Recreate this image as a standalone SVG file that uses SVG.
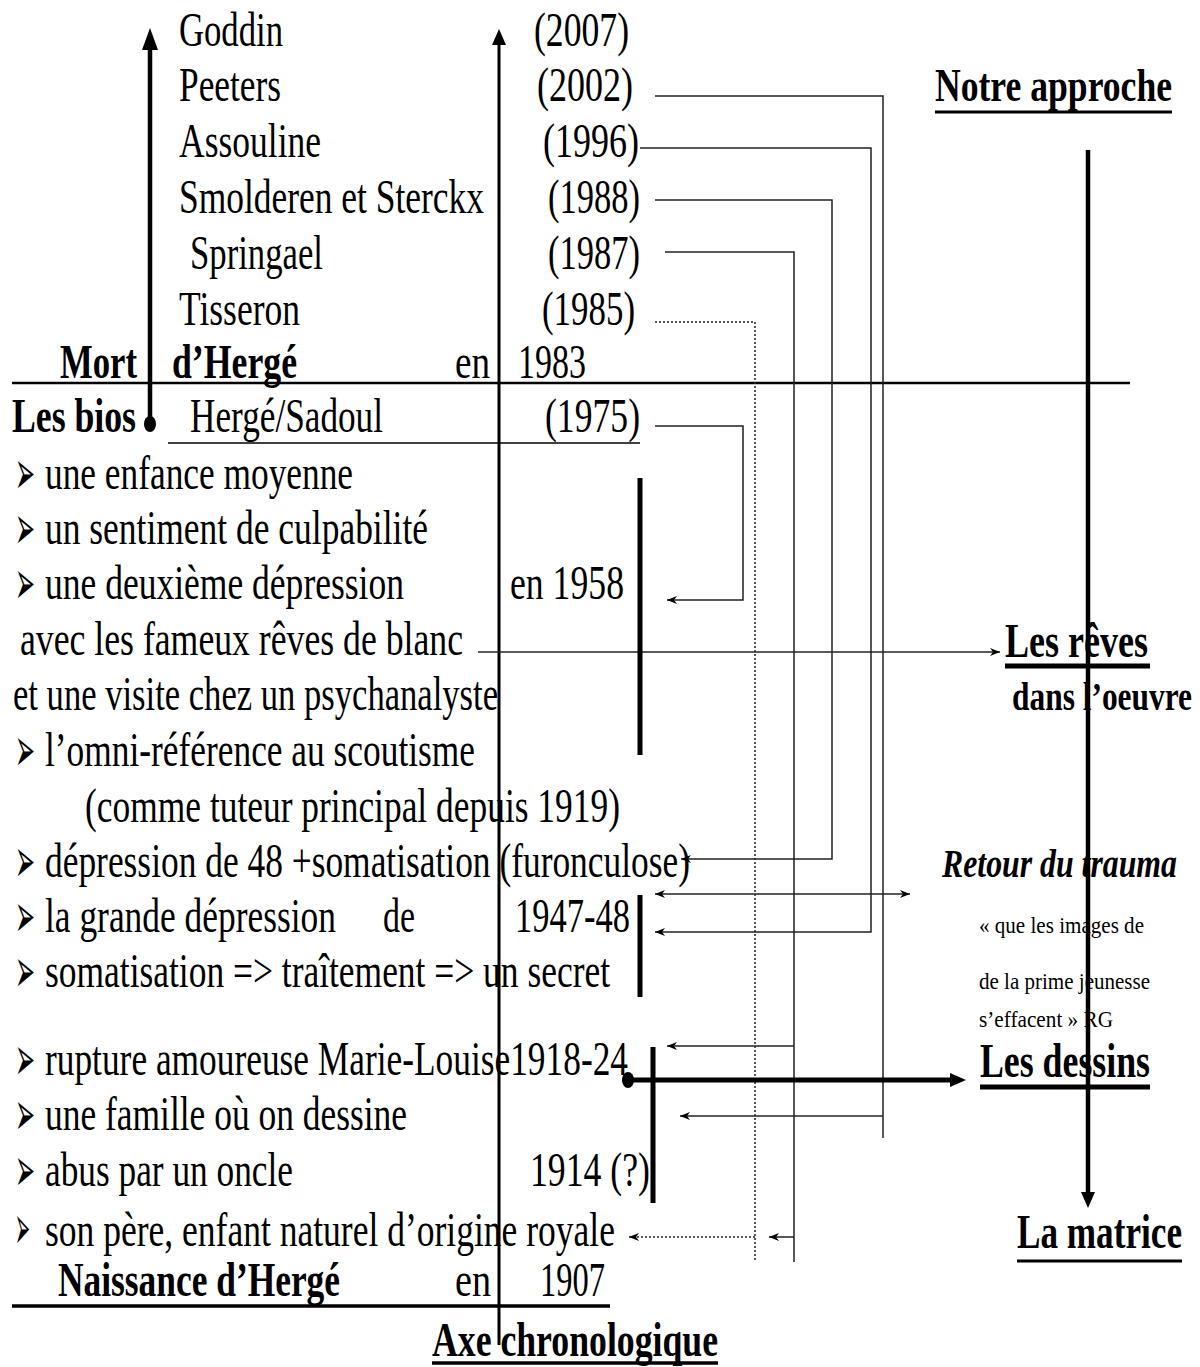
<svg xmlns="http://www.w3.org/2000/svg" width="1200" height="1367" viewBox="0 0 1200 1367">
<style>
.t{font-family:"Liberation Serif","Times New Roman",serif;font-size:48px;fill:#000}
.b{font-weight:bold}
.i{font-style:italic}
.s24{font-size:24px}
.s40{font-size:40px}
.s46{font-size:46px}
.bul{font-family:"DejaVu Sans",sans-serif;font-size:62px;fill:#000}
.c{stroke:#222;stroke-width:1.5;fill:none}
.d{stroke-dasharray:2 2}
.k{stroke:#000;fill:none}
.u{stroke:#000;fill:none}
</style>
<defs>
<marker id="sm" viewBox="0 0 10 8" refX="10" refY="4" markerWidth="10" markerHeight="8" markerUnits="userSpaceOnUse" orient="auto-start-reverse"><path d="M0,0 L10,4 L0,8 L3,4 z" fill="#000"/></marker>
<marker id="big" viewBox="0 0 16 14" refX="0" refY="7" markerWidth="16" markerHeight="14" markerUnits="userSpaceOnUse" orient="auto"><path d="M0,0 L16,7 L0,14 z" fill="#000"/></marker>
<marker id="big2" viewBox="0 0 22 16" refX="0" refY="8" markerWidth="22" markerHeight="16" markerUnits="userSpaceOnUse" orient="auto"><path d="M0,0 L22,8 L0,16 z" fill="#000"/></marker>
</defs>
<rect width="1200" height="1367" fill="#fff"/>

<g id="connectors">
<path class="k" stroke-width="4.5" d="M150,423 V50" marker-end="url(#big2)"/>
<ellipse cx="150" cy="424" rx="6" ry="8" fill="#000"/>
<path class="k" stroke-width="3" d="M499,1345 V45" marker-end="url(#big)"/>
<path class="k" stroke-width="4.5" d="M1088,150 V1192" marker-end="url(#big)"/>
<path class="k" stroke-width="2.5" d="M12,383 H1130"/>
<path class="k" stroke-width="1.5" d="M168,443 H640"/>
<path class="c" d="M655,96 H883 V1138"/>
<path class="c" d="M883,1116 H680" marker-end="url(#sm)"/>
<path class="c" d="M640,148 H871 V932 H655" marker-end="url(#sm)"/>
<path class="c" d="M655,200 H832 V859 H681" marker-end="url(#sm)"/>
<path class="c" d="M665,252 H794 V1262"/>
<path class="c" d="M794,1046 H667" marker-end="url(#sm)"/>
<path class="c" d="M794,1237 H769" marker-end="url(#sm)"/>
<path class="c d" d="M655,322 H755 V1262"/>
<path class="c d" d="M755,1237 H629" marker-end="url(#sm)"/>
<path class="c" d="M655,426 H743 V600 H667" marker-end="url(#sm)"/>
<path class="c" d="M478,652 H1000" marker-end="url(#sm)"/>
<path class="c" d="M655,894 H910" marker-start="url(#sm)" marker-end="url(#sm)"/>
<path class="k" stroke-width="5" d="M640,478 V755"/>
<path class="k" stroke-width="5" d="M640,895 V997"/>
<path class="k" stroke-width="5" d="M653,1047 V1203"/>
<path class="k" stroke-width="5" d="M628,1080 H950" marker-end="url(#big)"/>
<ellipse cx="628" cy="1080" rx="6" ry="8" fill="#000"/>
</g>

<g id="n-goddin"><text class="t" x="179" y="46" textLength="104" lengthAdjust="spacingAndGlyphs">Goddin</text><text class="t" x="534" y="46" textLength="95" lengthAdjust="spacingAndGlyphs">(2007)</text></g>
<g id="n-peeters"><text class="t" x="179" y="101" textLength="102" lengthAdjust="spacingAndGlyphs">Peeters</text><text class="t" x="537" y="101" textLength="96" lengthAdjust="spacingAndGlyphs">(2002)</text></g>
<g id="n-assouline"><text class="t" x="179" y="157" textLength="142" lengthAdjust="spacingAndGlyphs">Assouline</text><text class="t" x="543" y="157" textLength="96" lengthAdjust="spacingAndGlyphs">(1996)</text></g>
<g id="n-smolderen"><text class="t" x="179" y="213" textLength="305" lengthAdjust="spacingAndGlyphs">Smolderen et Sterckx</text><text class="t" x="548" y="213" textLength="92" lengthAdjust="spacingAndGlyphs">(1988)</text></g>
<g id="n-springael"><text class="t" x="190" y="269" textLength="133" lengthAdjust="spacingAndGlyphs">Springael</text><text class="t" x="548" y="269" textLength="92" lengthAdjust="spacingAndGlyphs">(1987)</text></g>
<g id="n-tisseron"><text class="t" x="179" y="325" textLength="121" lengthAdjust="spacingAndGlyphs">Tisseron</text><text class="t" x="542" y="325" textLength="93" lengthAdjust="spacingAndGlyphs">(1985)</text></g>
<g id="n-mort"><text class="t b" x="60" y="378" textLength="77" lengthAdjust="spacingAndGlyphs">Mort</text><text class="t b" x="172" y="378" textLength="125" lengthAdjust="spacingAndGlyphs">d’Hergé</text><text class="t" x="455" y="378" textLength="35" lengthAdjust="spacingAndGlyphs">en</text><text class="t" x="518" y="378" textLength="68" lengthAdjust="spacingAndGlyphs">1983</text></g>
<g id="n-bios"><text class="t b" x="12" y="432" textLength="124" lengthAdjust="spacingAndGlyphs">Les bios</text><text class="t" x="190" y="432" textLength="193" lengthAdjust="spacingAndGlyphs">Hergé/Sadoul</text><text class="t" x="545" y="432" textLength="95" lengthAdjust="spacingAndGlyphs">(1975)</text></g>

<g id="n-list">
<text class="bul" x="15" y="494" textLength="20" lengthAdjust="spacingAndGlyphs">➢</text><text class="t" x="45" y="489" textLength="308" lengthAdjust="spacingAndGlyphs">une enfance moyenne</text>
<text class="bul" x="15" y="549" textLength="20" lengthAdjust="spacingAndGlyphs">➢</text><text class="t" x="45" y="544" textLength="383" lengthAdjust="spacingAndGlyphs">un sentiment de culpabilité</text>
<text class="bul" x="15" y="604" textLength="20" lengthAdjust="spacingAndGlyphs">➢</text><text class="t" x="45" y="599" textLength="359" lengthAdjust="spacingAndGlyphs">une deuxième dépression</text><text class="t" x="510" y="599" textLength="114" lengthAdjust="spacingAndGlyphs">en 1958</text>
<text class="t" x="20" y="655" textLength="443" lengthAdjust="spacingAndGlyphs">avec les fameux rêves de blanc</text>
<text class="t" x="13" y="710" textLength="485" lengthAdjust="spacingAndGlyphs">et une visite chez un psychanalyste</text>
<text class="bul" x="15" y="771" textLength="20" lengthAdjust="spacingAndGlyphs">➢</text><text class="t" x="45" y="766" textLength="430" lengthAdjust="spacingAndGlyphs">l’omni-référence au scoutisme</text>
<text class="t" x="85" y="822" textLength="535" lengthAdjust="spacingAndGlyphs">(comme tuteur principal depuis 1919)</text>
<text class="bul" x="15" y="882" textLength="20" lengthAdjust="spacingAndGlyphs">➢</text><text class="t" x="45" y="877" textLength="645" lengthAdjust="spacingAndGlyphs">dépression de 48 +somatisation (furonculose)</text>
<text class="bul" x="15" y="937" textLength="20" lengthAdjust="spacingAndGlyphs">➢</text><text class="t" x="45" y="932" textLength="291" lengthAdjust="spacingAndGlyphs">la grande dépression</text><text class="t" x="383" y="932" textLength="32" lengthAdjust="spacingAndGlyphs">de</text><text class="t" x="515" y="932" textLength="115" lengthAdjust="spacingAndGlyphs">1947-48</text>
<text class="bul" x="15" y="992" textLength="20" lengthAdjust="spacingAndGlyphs">➢</text><text class="t" x="45" y="987" textLength="565" lengthAdjust="spacingAndGlyphs">somatisation =&gt; traîtement =&gt; un secret</text>
<text class="bul" x="15" y="1080" textLength="20" lengthAdjust="spacingAndGlyphs">➢</text><text class="t" x="45" y="1075" textLength="583" lengthAdjust="spacingAndGlyphs">rupture amoureuse Marie-Louise1918-24</text>
<text class="bul" x="15" y="1135" textLength="20" lengthAdjust="spacingAndGlyphs">➢</text><text class="t" x="45" y="1130" textLength="362" lengthAdjust="spacingAndGlyphs">une famille où on dessine</text>
<text class="bul" x="15" y="1191" textLength="20" lengthAdjust="spacingAndGlyphs">➢</text><text class="t" x="45" y="1186" textLength="248" lengthAdjust="spacingAndGlyphs">abus par un oncle</text><text class="t" x="530" y="1186" textLength="120" lengthAdjust="spacingAndGlyphs">1914 (?)</text>
<text class="bul" x="15" y="1249" font-size="40" textLength="15" lengthAdjust="spacingAndGlyphs">➢</text><text class="t" x="45" y="1246" textLength="570" lengthAdjust="spacingAndGlyphs">son père, enfant naturel d’origine royale</text>
</g>

<g id="n-naissance"><text class="t b" x="58" y="1296" textLength="282" lengthAdjust="spacingAndGlyphs">Naissance d’Hergé</text><text class="t" x="455" y="1296" textLength="36" lengthAdjust="spacingAndGlyphs">en</text><text class="t" x="540" y="1296" textLength="65" lengthAdjust="spacingAndGlyphs">1907</text><path class="u" stroke-width="3.5" d="M12,1306 H610"/></g>
<g id="n-axe"><text class="t b" x="432" y="1356" textLength="286" lengthAdjust="spacingAndGlyphs">Axe chronologique</text><path class="u" stroke-width="3.5" d="M432,1363 H718"/></g>

<g id="n-approche"><text class="t b s46" x="935" y="101" textLength="237" lengthAdjust="spacingAndGlyphs">Notre approche</text><path class="u" stroke-width="3" d="M935,112 H1172"/></g>
<g id="n-reves"><text class="t b" x="1005" y="657" textLength="143" lengthAdjust="spacingAndGlyphs">Les rêves</text><path class="u" stroke-width="5" d="M1005,666 H1150"/><text class="t b s40" x="1012" y="710" textLength="180" lengthAdjust="spacingAndGlyphs">dans l’oeuvre</text></g>
<g id="n-trauma"><text class="t b i s40" x="942" y="877" textLength="235" lengthAdjust="spacingAndGlyphs">Retour du trauma</text>
<text class="t s24" x="979" y="933" textLength="165" lengthAdjust="spacingAndGlyphs">« que les images de</text>
<text class="t s24" x="979" y="989" textLength="171" lengthAdjust="spacingAndGlyphs">de la prime jeunesse</text>
<text class="t s24" x="979" y="1027" textLength="134" lengthAdjust="spacingAndGlyphs">s’effacent » RG</text></g>
<g id="n-dessins"><text class="t b" x="980" y="1077" textLength="170" lengthAdjust="spacingAndGlyphs">Les dessins</text><path class="u" stroke-width="5" d="M980,1087 H1150"/></g>
<g id="n-matrice"><text class="t b" x="1017" y="1248" textLength="165" lengthAdjust="spacingAndGlyphs">La matrice</text><path class="u" stroke-width="3" d="M1017,1261 H1182"/></g>
</svg>
